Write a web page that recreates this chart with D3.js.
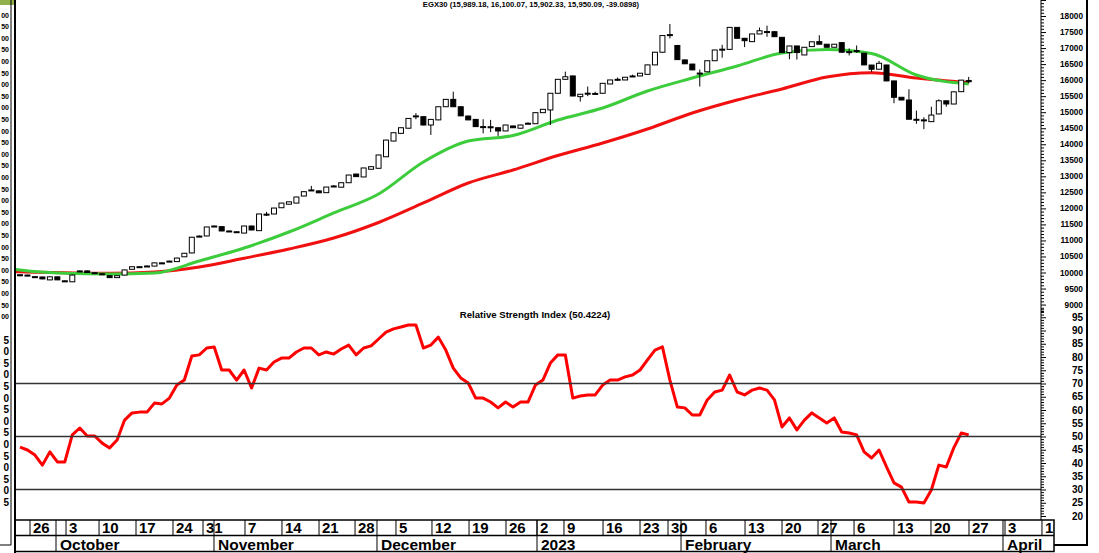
<!DOCTYPE html>
<html>
<head>
<meta charset="utf-8">
<script src="https://cdn.jsdelivr.net/npm/d3@7"></script>
<style>
body{margin:0;background:#fff;}
svg{display:block;}
text{font-family:"Liberation Sans",Arial,sans-serif;}
</style>
</head>
<body>
<svg id="chart" width="1099" height="553"></svg>
<script>
"use strict";
// daily candles (trading day index 0..127)
var opens = [9930,9920,9870,9860,9770,9865,9740,9710,10020,10050,9995,9960,9900,9840,9920,10100,10180,10200,10200,10300,10350,10340,10490,10610,11130,11140,11440,11430,11295,11270,11230,11450,11305,11820,11825,12020,12130,12165,12385,12570,12545,12490,12690,12660,12800,13070,12980,13220,13250,13610,14100,14340,14500,14880,14860,14600,14760,15170,15400,15170,14880,14775,14550,14545,14515,14415,14570,14500,14650,14640,14985,15070,15590,16025,16130,15485,15590,15580,15590,15880,16020,16005,16125,16130,16180,16475,16870,17400,17080,16630,16500,16220,16260,16605,16960,16960,17645,17305,17200,17440,17510,17510,17335,16860,17065,16785,17045,17200,17120,17025,17170,16885,16920,16840,16470,16340,16472,15975,15465,15380,14775,14760,14705,14945,15355,15255,15640,15989.18];
var highs = [9940,9935,9880,9870,9870,9870,9750,9930,10060,10060,10010,9970,9910,9905,10090,10190,10190,10215,10310,10310,10370,10460,10610,11110,11160,11425,11460,11440,11310,11285,11455,11460,11830,11890,12015,12170,12210,12360,12525,12700,12560,12670,12730,12810,13045,13080,13265,13310,13670,14140,14365,14520,14810,14970,14870,14780,15175,15405,15640,15180,14890,14790,14780,14760,14520,14605,14580,14610,14680,14990,15095,15595,16030,16265,16140,15565,15800,15640,15905,16010,16080,16095,16170,16220,16480,16880,17400,17750,17100,16640,16510,16330,16610,16945,17100,17650,17650,17310,17445,17640,17700,17520,17340,17070,17070,17030,17200,17400,17125,17125,17175,16990,17080,16845,16475,16600,16480,15980,15470,15715,15050,14840,15170,15400,15360,15640,16005,16100.07];
var lows = [9880,9880,9850,9790,9760,9765,9720,9700,10010,9995,9980,9940,9830,9830,9915,10095,10170,10185,10195,10290,10340,10335,10485,10600,11100,11130,11430,11290,11280,11260,11225,11320,11300,11760,11820,12015,12125,12160,12380,12560,12480,12485,12670,12655,12795,12985,12975,13210,13240,13600,14095,14335,14495,14780,14590,14290,14750,15165,15165,14880,14750,14540,14340,14380,14260,14410,14510,14495,14620,14635,14980,14600,15585,16020,15500,15330,15500,15550,15585,15875,15990,16000,16100,16125,16175,16470,16860,17300,16630,16500,16310,15800,16250,16600,16700,16950,17300,17030,17195,17435,17350,17350,16855,16650,16640,16780,17040,17110,17020,17020,16865,16770,16850,16470,16260,16335,15970,15280,15375,14775,14640,14470,14700,14940,15170,15250,15635,15902.33];
var closes = [9925,9890,9868,9800,9865,9770,9735,9920,10050,10000,9995,9955,9840,9900,10080,10180,10182,10203,10300,10298,10355,10450,10600,11100,11135,11420,11450,11295,11292,11272,11450,11326,11825,11815,12010,12165,12205,12355,12520,12575,12485,12665,12698,12800,13040,12990,13260,13300,13665,14130,14360,14515,14805,14885,14600,14775,15170,15400,15170,14885,14760,14550,14548,14540,14415,14600,14515,14600,14655,14985,15090,15590,16025,16105,15505,15560,15592,15585,15900,16005,16025,16090,16130,16215,16475,16870,17390,17420,16640,16510,16320,16215,16605,16940,16965,17645,17305,17230,17440,17540,17515,17355,16860,17065,16860,17025,17195,17120,17025,17120,16870,16888,16918,16475,16340,16525,15975,15465,15380,14780,14778,14756,14910,15355,15255,15635,16000,15950.09];

// moving averages sampled at day indexes
var maDays = [-1,0,6,12,18,24,30,36,42,48,54,60,66,72,78,84,90,96,102,108,114,120,127];
var greenMA = [10109,10078,9975,9953,9984,10359,10764,11263,11856,12448,13447,14101,14273,14756,15130,15661,16066,16441,16846,16955,16831,16160,15880];
var redMA = [10031,10022,9994,9975,10016,10172,10446,10733,11076,11560,12168,12792,13198,13649,14039,14476,14975,15380,15723,16097,16232,16066,15920];

// RSI per day
var rsi = [46.0,44.9,43.0,39.2,44.2,40.4,40.4,50.6,53.2,50.2,50.2,47.5,45.7,48.7,56.2,58.9,59.2,59.2,62.6,62.3,64.5,69.4,71.3,80.4,80.8,83.4,83.8,75.1,75.1,71.3,75.1,68.3,75.8,75.1,78.1,79.6,79.6,81.9,83.4,83.4,80.8,81.9,81.1,83.0,84.5,80.8,83.4,84.2,86.8,89.4,90.6,91.3,92.1,92.1,83.4,84.5,87.5,82.6,75.8,72.1,70.2,64.5,64.5,63.0,60.8,63.0,61.1,63.0,63.0,69.4,71.3,77.7,80.8,80.8,64.5,65.3,65.7,65.7,69.4,71.3,71.3,72.5,73.2,75.1,78.9,82.6,83.8,71.3,61.1,60.8,58.1,58.1,63.8,66.8,67.5,73.2,66.8,65.7,67.5,68.3,67.5,63.8,53.6,57.0,52.5,56.2,58.9,57.0,55.1,57.0,51.7,51.3,50.6,44.2,41.9,44.9,38.5,32.5,30.9,25.3,25.3,24.9,29.8,39.2,38.5,45.7,51.3,50.6];
var rsiLevels = [70, 50, 30];

// date axis (separator positions in trading-day units)
var weekLabels = ["26","3","10","17","24","31","7","14","21","28","5","12","19","26","2","9","16","23","30","6","13","20","27","6","13","20","27","3","10"];
var weekPos = [1.34,6.16,10.58,15.53,20.48,24.5,30.12,35.07,40.03,44.85,50.33,55.15,60.11,65.06,69.21,72.82,78.05,83.0,86.75,91.83,97.06,102.01,106.83,111.65,117.0,121.95,127.04,131.86,136.81];
var monthLabels = ["October","November","December","2023","February","March","April"];
var monthPos = [4.82,25.97,47.79,69.21,88.49,108.57,131.59];

var titlePrice = "EGX30 (15,989.18, 16,100.07, 15,902.33, 15,950.09, -39.0898)";
var titleRsi = "Relative Strength Index (50.4224)";
// cut-off labels of the neighbouring chart on the left edge
var stubPrice = ["00","50","00","50","00","50","00","50","00","50","00","50","00","50","00","50","00","50","00","50","00","50","00","50","00","50","00"];
var stubRsi = ["5","0","5","0","5","0","5","0","5","0","5","0","5","0","5"];

var svg = d3.select("#chart");
var axisX = 1041;
var dateRight = 1054;
var x = d3.scaleLinear().domain([0, 127]).range([20, 968.7]);
var yP = d3.scaleLinear().domain([10000, 18000]).range([272.5, 16]);
var yR = d3.scaleLinear().domain([30, 70]).range([489.5, 383.5]);

svg.append("clipPath").attr("id", "plotClip")
	.append("rect").attr("x", 16).attr("y", 0).attr("width", axisX - 16).attr("height", 520);

// left stub panel
svg.append("rect").attr("x", 0).attr("y", 0).attr("width", 15).attr("height", 5).attr("fill", "#8fb04a");
var stub = svg.append("g").attr("font-weight", "bold").attr("fill", "#000");
stub.selectAll("text.sp").data(stubPrice).enter().append("text")
	.attr("class", "sp")
	.attr("x", 9).attr("text-anchor", "end")
	.attr("y", function(d, i) { return 17.5 + i * 11.6; })
	.attr("font-size", 7)
	.text(function(d) { return d; });
stub.selectAll("text.sr").data(stubRsi).enter().append("text")
	.attr("class", "sr")
	.attr("x", 9).attr("text-anchor", "end")
	.attr("y", function(d, i) { return 343.5 + i * 11.6; })
	.attr("font-size", 10)
	.text(function(d) { return d; });
svg.append("path").attr("d", "M11,0V545H0").attr("fill", "none").attr("stroke", "#000").attr("stroke-width", 1);
svg.append("line").attr("x1", 15).attr("x2", 15).attr("y1", 0).attr("y2", 553).attr("stroke", "#000").attr("stroke-width", 2);

// titles
svg.append("text").attr("x", 531).attr("y", 7).attr("text-anchor", "middle")
	.attr("font-size", 7.7).attr("font-weight", "bold").text(titlePrice);
svg.append("text").attr("x", 535).attr("y", 318).attr("text-anchor", "middle")
	.attr("font-size", 9.6).attr("font-weight", "bold").text(titleRsi);

var plot = svg.append("g").attr("clip-path", "url(#plotClip)");

// moving averages
var maLine = d3.line()
	.x(function(d) { return x(d[0]); })
	.y(function(d) { return yP(d[1]); })
	.curve(d3.curveMonotoneX);
plot.append("path").datum(d3.zip(maDays, redMA))
	.attr("d", maLine).attr("fill", "none").attr("stroke", "#f01010").attr("stroke-width", 3);
plot.append("path").datum(d3.zip(maDays, greenMA))
	.attr("d", maLine).attr("fill", "none").attr("stroke", "#3ccc3c").attr("stroke-width", 3);

// candles
var candles = opens.map(function(o, i) { return {i: i, o: o, h: highs[i], l: lows[i], c: closes[i]}; });
var cg = plot.selectAll("g.candle").data(candles).enter().append("g").attr("class", "candle");
cg.append("line")
	.attr("x1", function(d) { return x(d.i); })
	.attr("x2", function(d) { return x(d.i); })
	.attr("y1", function(d) { return yP(d.h); })
	.attr("y2", function(d) { return yP(d.l); })
	.attr("stroke", "#000").attr("stroke-width", 1);
cg.append("rect")
	.attr("x", function(d) { return x(d.i) - 2.5; })
	.attr("width", 5)
	.attr("y", function(d) { return yP(Math.max(d.o, d.c)); })
	.attr("height", function(d) { return Math.max(1, Math.abs(yP(d.o) - yP(d.c))); })
	.attr("fill", function(d) { return d.c >= d.o ? "#fff" : "#000"; })
	.attr("stroke", "#000").attr("stroke-width", 1);

// RSI reference lines
svg.selectAll("line.lvl").data(rsiLevels).enter().append("line")
	.attr("class", "lvl")
	.attr("x1", 16).attr("x2", axisX)
	.attr("y1", function(d) { return yR(d); })
	.attr("y2", function(d) { return yR(d); })
	.attr("stroke", "#333").attr("stroke-width", 1.5);

plot.append("path").datum(rsi)
	.attr("d", d3.line().x(function(d, i) { return x(i); }).y(function(d) { return yR(d); }))
	.attr("fill", "none").attr("stroke", "#f00").attr("stroke-width", 3).attr("stroke-linejoin", "round");

// right axes
var priceAxis = svg.append("g").attr("transform", "translate(" + axisX + ",0)");
priceAxis.call(d3.axisRight(yP).tickValues(d3.range(8800, 18600, 100)).tickSize(3).tickFormat(""));
priceAxis.call(function(g) {
	g.selectAll(".tick line").filter(function(d) { return d % 500 === 0; }).attr("x2", 5);
	g.select(".domain").remove();
});
priceAxis.selectAll("text.lab").data(d3.range(9000, 18001, 500)).enter().append("text")
	.attr("class", "lab")
	.attr("x", 42).attr("text-anchor", "end")
	.attr("y", function(d) { return yP(d) + 3; })
	.attr("font-size", 8.3).attr("font-weight", "bold").attr("fill", "#000")
	.text(function(d) { return d; });

var rsiAxis = svg.append("g").attr("transform", "translate(" + axisX + ",0)");
rsiAxis.call(d3.axisRight(yR).tickValues(d3.range(20, 99, 1)).tickSize(3).tickFormat(""));
rsiAxis.call(function(g) {
	g.selectAll(".tick line").filter(function(d) { return d % 5 === 0; }).attr("x2", 5);
	g.select(".domain").remove();
});
rsiAxis.selectAll("text.lab").data(d3.range(20, 96, 5)).enter().append("text")
	.attr("class", "lab")
	.attr("x", 42).attr("text-anchor", "end")
	.attr("y", function(d) { return yR(d) + 3.5; })
	.attr("font-size", 10).attr("font-weight", "bold").attr("fill", "#000")
	.text(function(d) { return d; });
svg.append("line").attr("x1", axisX).attr("x2", axisX).attr("y1", 0).attr("y2", 520).attr("stroke", "#000").attr("stroke-width", 1);
svg.append("path").attr("d", "M1087,0V545H" + dateRight).attr("fill", "none").attr("stroke", "#000").attr("stroke-width", 2);

// date axis
svg.append("clipPath").attr("id", "dateClip")
	.append("rect").attr("x", 15).attr("y", 519).attr("width", dateRight - 15).attr("height", 34);
var dg = svg.append("g").attr("clip-path", "url(#dateClip)");
dg.selectAll("line.wk").data(weekPos).enter().append("line")
	.attr("class", "wk")
	.attr("x1", function(d) { return x(d); }).attr("x2", function(d) { return x(d); })
	.attr("y1", 520).attr("y2", 535.5)
	.attr("stroke", "#000").attr("stroke-width", 1);
dg.selectAll("text.wk").data(weekLabels).enter().append("text")
	.attr("class", "wk")
	.attr("x", function(d, i) { return x(weekPos[i]) + 3; })
	.attr("y", 533)
	.attr("font-size", 15).attr("font-weight", "bold")
	.text(function(d) { return d; });
dg.selectAll("line.mo").data(monthPos).enter().append("line")
	.attr("class", "mo")
	.attr("x1", function(d) { return x(d); }).attr("x2", function(d) { return x(d); })
	.attr("y1", 520).attr("y2", 551)
	.attr("stroke", "#000").attr("stroke-width", 1);
dg.selectAll("text.mo").data(monthLabels).enter().append("text")
	.attr("class", "mo")
	.attr("x", function(d, i) { return x(monthPos[i]) + 4; })
	.attr("y", 549.5)
	.attr("font-size", 15.5).attr("font-weight", "bold")
	.text(function(d) { return d; });
svg.append("path").attr("d", "M15,520H" + dateRight + "V551.5H15M15,535.5H" + dateRight)
	.attr("fill", "none").attr("stroke", "#000").attr("stroke-width", 1.5);
</script>
</body>
</html>
